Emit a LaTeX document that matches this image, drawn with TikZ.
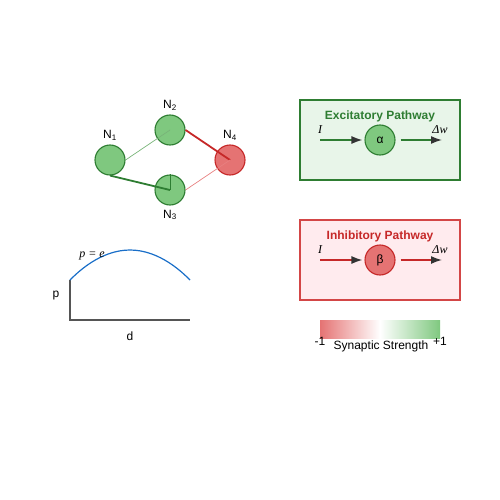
\documentclass[tikz,border=0pt]{standalone}
\usepackage[no-math]{fontspec}
\setmainfont{Liberation Sans}
\newfontfamily\mathtxt{Liberation Serif}
\usetikzlibrary{arrows.meta}
\definecolor{exfill}{RGB}{127,200,127}
\definecolor{exdark}{RGB}{46,125,50}
\definecolor{exlight}{RGB}{120,180,120}
\definecolor{exbox}{RGB}{232,245,233}
\definecolor{inhfill}{RGB}{229,115,115}
\definecolor{inhdark}{RGB}{198,40,40}
\definecolor{inhlight}{RGB}{232,128,128}
\definecolor{inhbox}{RGB}{255,235,238}
\definecolor{inhedge}{RGB}{211,70,70}
\definecolor{curveblue}{RGB}{25,110,200}
\definecolor{axisgrey}{RGB}{85,85,85}
\definecolor{tipgrey}{RGB}{51,51,51}
\begin{document}
\begin{tikzpicture}[x=1pt,y=-1pt]
	\tikzset{>=latex}
	\tikzset{neuronex/.style={circle,draw=exdark,fill=exfill,line width=1.1pt,minimum size=30pt,inner sep=0pt},
		neuroninh/.style={circle,draw=inhdark,fill=inhfill,line width=1.1pt,minimum size=30pt,inner sep=0pt},
		lbl/.style={font=\fontsize{12}{14}\selectfont},
		sym/.style={font=\fontsize{12}{14}\selectfont\mathtxt\itshape},
		title/.style={font=\fontsize{12}{14}\selectfont\bfseries},
		pathtip/.style={line width=1.5pt,-{Latex[color=tipgrey,length=11pt,width=8pt]}}}
	\useasboundingbox (0,0) rectangle (500,500);
	
	% small network
	\node[neuronex] (N1) at (110,160) {};
	\node[neuronex] (N2) at (170,130) {};
	\node[neuronex] (N3) at (170,190) {};
	\node[neuroninh] (N4) at (230,160) {};
	
	\draw[exlight,line width=0.7pt] (N1.east) -- (N2.center);
	\draw[exdark,line width=1.8pt] (N1.south) -- (N3.center);
	\draw[exdark,line width=0.7pt] (N3.north) -- (N3.center);
	\draw[inhdark,line width=1.8pt] (N2.east) -- (N4.center);
	\draw[inhlight,line width=0.7pt] (N3.east) -- (N4.center);
	
	\node[lbl] (L1) at (110,135) {N\textsubscript{1}};
	\node[lbl] (L2) at (170,105) {N\textsubscript{2}};
	\node[lbl] (L3) at (170,215) {N\textsubscript{3}};
	\node[lbl] (L4) at (230,135) {N\textsubscript{4}};
	
	% probability curve
	\draw[axisgrey,line width=1.5pt] (70,280) -- (70,320) -- (190,320);
	\draw[curveblue,line width=1.2pt] (70,280) parabola bend (130,250) (190,280);
	\node[sym] (pe) at (92,256) {p = e};
	\node[lbl] (py) at (56,296) {p};
	\node[lbl] (dx) at (130,336) {d};
	
	% excitatory pathway
	\draw[exdark,fill=exbox,line width=1.2pt] (300,100) rectangle (460,180);
	\node[title,text=exdark] (ET) at (380,116) {Excitatory Pathway};
	\node[neuronex,lbl] (alpha) at (380,140) {α};
	\coordinate (Ein) at (320,140);
	\coordinate (Eout) at (442,140);
	\draw[exdark,pathtip,shorten >=2pt] (Ein) -- (alpha.west);
	\draw[exdark,pathtip,shorten <=5pt] (alpha.east) -- (Eout);
	\node[sym] (EI) at (320,130) {I};
	\node[sym] (Ew) at (440,130) {Δw};
	
	% inhibitory pathway
	\draw[inhedge,fill=inhbox,line width=1.2pt] (300,220) rectangle (460,300);
	\node[title,text=inhdark] (IT) at (380,236) {Inhibitory Pathway};
	\node[neuroninh,lbl] (beta) at (380,260) {β};
	\coordinate (Iin) at (320,260);
	\coordinate (Iout) at (442,260);
	\draw[inhdark,pathtip,shorten >=2pt] (Iin) -- (beta.west);
	\draw[inhdark,pathtip,shorten <=5pt] (beta.east) -- (Iout);
	\node[sym] (II) at (320,250) {I};
	\node[sym] (Iw) at (440,250) {Δw};
	
	% colour bar
	\shade[left color=inhfill,right color=exfill,middle color=white] (320,320) rectangle (440,338);
	\node[lbl] (mone) at (320,341) {-1};
	\node[lbl] (pone) at (440,341) {+1};
	\node[lbl] (SS) at (381,346) {Synaptic Strength};
	
\end{tikzpicture}
\end{document}
